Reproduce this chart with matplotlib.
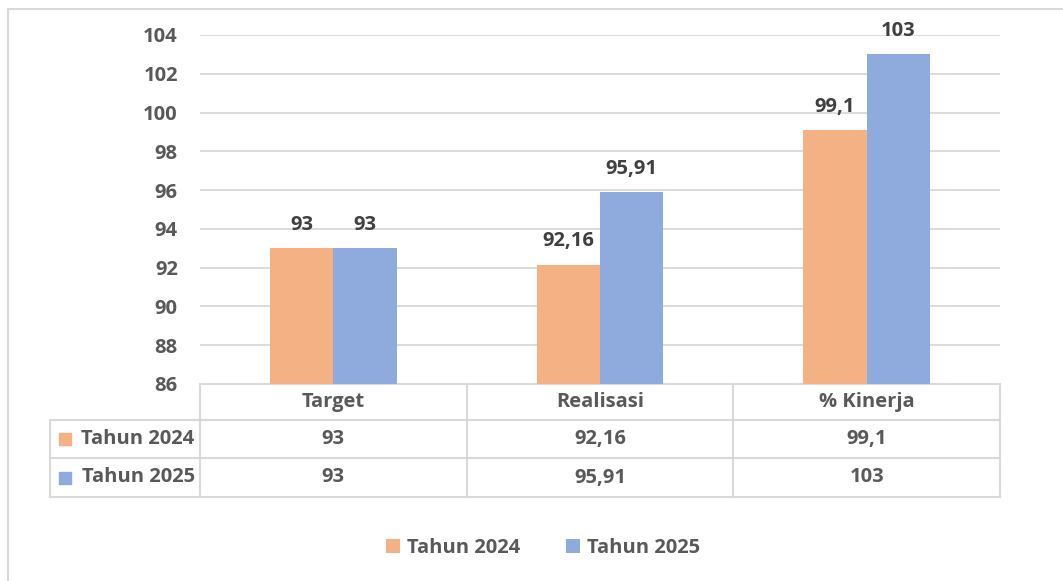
import numpy as np
import matplotlib
matplotlib.use("Agg")
import matplotlib.pyplot as plt
from matplotlib.patches import Rectangle
from matplotlib.transforms import blended_transform_factory

plt.rcParams['font.family'] = ['Open Sans', 'DejaVu Sans']
plt.rcParams['font.weight'] = 'bold'

categories = ["Target", "Realisasi", "% Kinerja"]
series_names = ["Tahun 2024", "Tahun 2025"]
values_2024 = [93, 92.16, 99.1]
values_2025 = [93, 95.91, 103]
labels_2024 = ["93", "92,16", "99,1"]
labels_2025 = ["93", "95,91", "103"]
colors = ["#F4B183", "#8FAADC"]

W, H = 1063, 581
FS = 14.5
fig = plt.figure(figsize=(W / 100, H / 100), dpi=100)

# chart border (only top and left visible in the crop)
fig.patches.append(Rectangle((8 / W, -0.1), 1.2, 1 - 9 / H + 0.1, transform=fig.transFigure,
                             fill=False, edgecolor="#d9d9d9", linewidth=1.5))

ax = fig.add_axes([200 / W, 1 - 384 / H, 800 / W, 349 / H])
x = np.arange(len(categories))
bw = 0.237
ax.bar(x - bw / 2, values_2024, bw, color=colors[0], label=series_names[0], zorder=3)
ax.bar(x + bw / 2, values_2025, bw, color=colors[1], label=series_names[1], zorder=3)

for xi, v, t in zip(x - bw / 2, values_2024, labels_2024):
    ax.text(xi, v + 1.2, t, ha="center", va="center", fontsize=FS, color="#404040", fontweight="bold")
for xi, v, t in zip(x + bw / 2, values_2025, labels_2025):
    ax.text(xi, v + 1.2, t, ha="center", va="center", fontsize=FS, color="#404040", fontweight="bold")

ax.set_xlim(-0.5, 2.5)
ax.set_ylim(86, 104)
ax.set_yticks(np.arange(86, 105, 2))
ax.set_xticks([])
ax.yaxis.grid(True, color="#d9d9d9", linewidth=1.3, zorder=0)
for s in ax.spines.values():
    s.set_visible(False)
ax.tick_params(axis="y", length=0, pad=16, labelsize=FS, labelcolor="#595959")
for lbl in ax.get_yticklabels():
    lbl.set_fontweight("bold")

# data table below the axes
tr = blended_transform_factory(ax.transData, ax.transAxes)
row_y = [0, -36 / 349, -74 / 349, -113 / 349]
left_x = -0.5 - 150 / (800 / 3)
line_kw = dict(color="#d9d9d9", linewidth=1.5, transform=tr, clip_on=False)
# horizontal lines
ax.plot([-0.5, 2.5], [row_y[0], row_y[0]], **line_kw)
for yy in row_y[1:]:
    ax.plot([left_x, 2.5], [yy, yy], **line_kw)
# vertical lines
for xx in [-0.5, 0.5, 1.5, 2.5]:
    ax.plot([xx, xx], [row_y[0], row_y[-1]], **line_kw)
ax.plot([left_x, left_x], [row_y[1], row_y[-1]], **line_kw)

txt_kw = dict(transform=tr, ha="center", va="center", fontsize=FS, color="#595959", fontweight="bold", clip_on=False)
for i, c in enumerate(categories):
    ax.text(i, (row_y[0] + row_y[1]) / 2, c, **txt_kw)
rows = [labels_2024, labels_2025]
for r, (name, vals) in enumerate(zip(series_names, rows)):
    yc = (row_y[r + 1] + row_y[r + 2]) / 2
    for i, t in enumerate(vals):
        ax.text(i, yc, t, **txt_kw)
    ax.scatter([left_x + 0.055], [yc], marker="s", s=75, color=colors[r], transform=tr, clip_on=False)
    ax.text(-0.52, yc, name, transform=tr, ha="right", va="center", fontsize=FS,
            color="#595959", fontweight="bold", clip_on=False)

# legend
leg = fig.legend(loc="center", bbox_to_anchor=(543 / W, 1 - 548 / H), ncol=2, frameon=False,
                 handlelength=0.7, handleheight=0.7, handletextpad=0.35, columnspacing=2.3,
                 prop={"size": FS, "weight": "bold"})
for t in leg.get_texts():
    t.set_color("#595959")

fig.savefig("out.png", dpi=100)
